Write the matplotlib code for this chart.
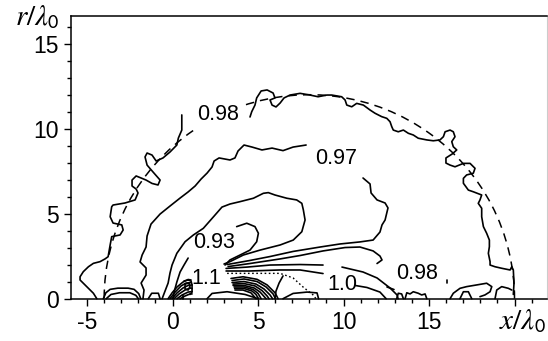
import matplotlib
matplotlib.use('Agg')
import matplotlib.pyplot as plt
from matplotlib.patches import Arc
from matplotlib.ticker import MultipleLocator

plt.rcParams['font.family'] = ['Liberation Sans', 'DejaVu Sans']
plt.rcParams['mathtext.fontset'] = 'stix'

# ---------------- data (units of lambda0) ----------------
# outer 0.98 contour, left of its label
c098a_x = [-4.43,-4.63,-5.02,-5.41,-5.41,-5.22,-4.92,-4.63,-4.24,-3.95,-3.77,-3.65,-3.56,-3.07,-2.89,-2.97,-3.48,-3.65,-3.56,-3.48,-2.78,-2.19,-2.02,-2.13,-2.37,-2.37,-2.13,-1.84,-1.55,-1.20,-0.85,-0.73,-1.14,-1.49,-1.61,-1.49,-1.20,-0.96,-0.56,-0.15,0.25,0.34,0.54,0.54]
c098a_y = [0,0.32,0.71,1.10,1.29,1.59,1.88,2.08,2.18,2.34,2.47,3.16,3.65,3.75,4.04,4.34,4.45,4.82,5.41,5.51,5.63,5.81,6.22,6.45,6.63,6.98,7.22,7.10,6.98,6.78,6.69,6.98,7.45,7.86,8.34,8.57,8.45,8.10,8.28,8.63,9.04,9.45,9.92,10.81]
# outer 0.98 contour, right of its label
c098b_x = [4.53,4.63,4.82,4.92,5.18,5.53,5.88,5.99,5.70,5.82,6.05,6.29,6.52,6.87,7.46,8.04,8.51,9.02,9.31,9.89,10.09,10.19,10.48,10.77,11.16,11.55,11.84,12.23,12.53,12.72,12.82,12.91,13.20,13.50,13.79,14.08,14.37,14.87,15.25,15.64,15.84,15.94,16.23,16.42,16.52,16.33,16.42,16.62,16.35,15.99,15.99,16.23,16.52,17.01,17.40,17.69,17.59,17.20,17.01,17.01,17.30,17.59,18.08,17.98,17.88,18.08,18.08,18.18,18.37,18.53,18.53,18.47,18.57,18.57,18.86,19.25,19.74,19.84,19.93,19.97,19.93]
c098b_y = [10.69,11.0,11.39,11.81,12.22,12.28,12.10,11.81,11.69,11.39,11.28,11.51,11.81,11.98,12.08,11.98,11.88,11.98,11.98,11.88,11.69,11.39,11.29,11.49,11.39,11.10,10.91,10.71,10.61,10.41,10.12,9.92,9.82,9.92,9.73,9.63,9.44,9.34,9.29,9.34,9.53,9.82,9.92,9.82,9.53,9.24,8.94,8.75,8.51,8.28,7.98,7.86,7.76,7.96,7.96,7.67,7.38,7.28,7.08,6.79,6.39,6.29,6.10,5.81,5.61,5.32,4.82,4.24,3.85,3.45,3.06,2.67,2.18,1.98,1.88,1.79,1.69,1.88,1.69,0.91,0.25]
# 0.97 contour
c097a_x = [-1.73,-1.67,-1.84,-1.55,-1.55,-1.90,-1.78,-1.55,-1.49,-1.26,-0.73,-0.15,0.44,0.91,1.32,1.67,2.02,2.31,2.43,2.72,3.36,3.65,3.83,4.18,4.65,5.23,5.82,6.46,7.05,7.81]
c097a_y = [0,0.51,0.92,1.39,1.81,2.16,2.57,3.04,3.69,4.39,4.98,5.45,5.92,6.28,6.63,7.04,7.39,7.75,8.10,8.28,8.16,8.28,8.69,9.04,8.92,8.75,8.86,8.71,8.92,9.04]
c097b_x = [11.14,11.55,11.61,11.96,12.43,12.60,12.43,12.25,12.13,11.73,10.96,9.80,8.63,7.05,5.70,4.53,3.19]
c097b_y = [7.10,6.75,6.22,5.81,5.63,5.34,4.63,4.34,3.92,3.45,3.34,3.22,3.04,2.78,2.48,2.25,2.01]
# unlabelled contour between 0.97 and 0.93
c095_x = [-0.61,-0.44,-0.26,-0.15,-0.03,0.25,0.73,1.22,1.80,2.43,2.89,3.36,3.95,4.73,5.31,5.60,5.99,6.68,7.26,7.56,7.65,7.75,7.56,7.06,6.29,5.12,4.14,3.36,3.01]
c095_y = [0,0.45,0.92,1.51,1.98,2.67,3.35,3.75,4.14,4.86,5.39,5.57,5.71,5.91,6.20,6.24,6.10,5.91,5.81,5.61,5.22,4.63,3.94,3.45,3.16,2.86,2.57,2.18,2.04]
# 0.93 contour
c093a_x = [0.03,0.09,0.25,0.44,0.67,0.91]
c093a_y = [0,0.39,0.98,1.57,1.98,2.39]
c093b_x = [3.75,4.34,4.82,5.02,4.92,4.53,3.95,3.36,3.07]
c093b_y = [4.24,4.44,4.24,3.85,3.35,2.86,2.57,2.28,1.98]
# fan of contours leaving x ~ 3
hook_x = [3.25,4.53,6.29,7.46,8.80,10.09,10.96,11.73,12.13,12.25,11.96]
hook_y = [1.89,2.07,2.34,2.54,2.81,3.01,3.04,2.81,2.51,2.28,2.07]
fan3_x = [3.13,4.36,5.70,7.46,8.80]
fan3_y = [1.78,1.86,1.98,2.01,1.98]
c100a_x = [3.13,4.53,6.29,7.46,8.80]
c100a_y = [1.63,1.63,1.69,1.69,1.48]
c100b_x = [9.91,11.14,11.96,12.72,13.13,13.19]
c100b_y = [1.86,1.57,1.22,0.63,0.22,0]
low1_x = [10.67,11.37,12.13,12.49]
low1_y = [0.78,0.66,0.39,0]
low2_x = [12.54,12.95]
low2_y = [0.69,0.54]
dot_x = [3.19,6.29,7.05,7.63,8.22,8.39]
dot_y = [1.49,1.49,1.22,0.69,0.22,0]
# nested arcs near x ~ 4-6
arcs_x = [[3.42,4.12,4.94,5.53,6.0,6.17],
          [3.48,4.18,4.94,5.47,5.88,6.02],
          [3.48,4.18,4.88,5.35,5.70,5.85],
          [3.54,4.18,4.82,5.23,5.53,5.64],
          [3.54,4.18,4.77,5.12,5.35,5.47],
          [3.60,4.18,4.71,5.0,5.18],
          [3.63,4.18,4.65,4.88,5.03],
          [3.65,4.12,4.59,4.88]]
arcs_y = [[1.19,1.29,1.14,0.81,0.34,0],
          [1.07,1.16,1.01,0.69,0.28,0],
          [0.95,1.01,0.86,0.57,0.22,0],
          [0.86,0.89,0.75,0.48,0.16,0],
          [0.78,0.78,0.63,0.39,0.13,0],
          [0.69,0.69,0.54,0.31,0],
          [0.60,0.60,0.45,0.25,0],
          [0.51,0.51,0.34,0]]
mirror_x = [6.46,6.23,6.05,5.99]
mirror_y = [1.34,0.92,0.45,0]
under_x = [2.02,2.31,3.19,4.24,5.0]
under_y = [0,0.31,0.41,0.25,0]
# dense cluster near x ~ 0-1
clus_x = [[-0.26,-0.03,0.26,0.61,0.91,1.08],
          [-0.15,0.15,0.50,0.79,1.08],
          [-0.03,0.26,0.61,0.91,1.14],
          [0.09,0.38,0.73,1.02,1.14],
          [0.26,0.56,0.91,1.14],
          [0.44,0.73,1.02,1.14],
          [0.67,0.91,1.08,1.14,1.14,1.02],
          [0.73,0.96,1.02,0.91,0.73,0.73],
          [0.60,0.60]]
clus_y = [[0,0.34,0.69,0.98,1.13,1.10],
          [0,0.39,0.75,0.92,0.95],
          [0,0.34,0.63,0.78,0.81],
          [0,0.28,0.51,0.63,0.60],
          [0,0.22,0.39,0.42],
          [0,0.16,0.28,0.28],
          [1.04,1.10,1.04,0.81,0.39,0.25],
          [0.86,0.92,0.69,0.51,0.57,0.86],
          [0,0.22]]
# small contours along the axis
small_x = [[-4.05,-3.9,-3.65,-3.2,-2.6,-2.25,-1.98,-1.86],
           [-3.88,-3.6,-3.1,-2.5,-2.15,-2.0],
           [-1.42,-1.22,-0.83,-0.73],
           [6.46,7.05,7.87,8.45,8.54],
           [13.11,13.20,13.40,13.50],
           [13.60,13.70,13.89,14.08,14.37,14.57,14.77,14.87],
           [16.03,16.03],
           [16.23,16.42,16.81,17.20,17.79,18.37,18.67,18.57,18.27,17.98],
           [16.81,17.01,17.30,17.50],
           [18.86,18.96,19.25,19.64,19.84]]
small_y = [[0,0.35,0.55,0.62,0.62,0.55,0.3,0],
           [0,0.25,0.35,0.35,0.2,0],
           [0,0.32,0.32,0],
           [0,0.31,0.39,0.34,0],
           [0,0.32,0.28,0],
           [0,0.35,0.28,0.41,0.32,0.22,0.28,0],
           [1.10,0.92],
           [0,0.32,0.61,0.71,0.81,0.91,0.71,0.41,0.22,0.12],
           [0,0.41,0.41,0],
           [0,0.51,0.71,0.61,0.51]]
# dashed reference semicircle: centre, radius, label gap (degrees)
circ_center = (8.0, 0.0)
circ_radius = 12.0
circ_gap = (109.0, 124.5)
# contour labels
lab_text = ['0.98', '0.97', '0.93', '1.1', '1.0', '0.98']
lab_x = [2.68, 9.56, 2.44, 1.95, 9.94, 14.28]
lab_y = [10.85, 8.25, 3.31, 1.20, 0.85, 1.49]
xticks = [-5, 0, 5, 10, 15, 20]
xtick_labels = ['-5', '0', '5', '10', '15', '']
yticks = [0, 5, 10, 15]
ytick_labels = ['0', '5', '10', '15']

# ---------------- figure ----------------
W, H = 548, 341
fig = plt.figure(figsize=(W / 100, H / 100), dpi=100)
ax = fig.add_axes([71 / W, (H - 298.7) / H, (547 - 71) / W, (298.7 - 16) / H])
ax.set_xlim(-5.94, 21.9)
ax.set_ylim(0, 16.63)

kw = dict(color='black', lw=1.2, solid_joinstyle='round', solid_capstyle='round', clip_on=False)
for xs, ys in [(c098a_x, c098a_y), (c098b_x, c098b_y), (c097a_x, c097a_y), (c097b_x, c097b_y),
               (c095_x, c095_y), (c093a_x, c093a_y), (c093b_x, c093b_y), (hook_x, hook_y),
               (fan3_x, fan3_y), (c100a_x, c100a_y), (c100b_x, c100b_y), (low1_x, low1_y),
               (low2_x, low2_y), (mirror_x, mirror_y), (under_x, under_y)]:
    ax.plot(xs, ys, **kw)
for xs, ys in zip(arcs_x, arcs_y):
    ax.plot(xs, ys, **kw)
for xs, ys in zip(clus_x, clus_y):
    ax.plot(xs, ys, **kw)
for xs, ys in zip(small_x, small_y):
    ax.plot(xs, ys, **kw)
ax.plot(dot_x, dot_y, color='black', lw=1.0, linestyle=(0, (1.2, 1.8)))

for t1, t2 in [(0.0, circ_gap[0]), (circ_gap[1], 180.0)]:
    ax.add_patch(Arc(circ_center, 2 * circ_radius, 2 * circ_radius, theta1=t1, theta2=t2,
                     color='black', lw=1.1, linestyle=(0, (5.5, 4))))

for t, x, y in zip(lab_text, lab_x, lab_y):
    ax.text(x, y, t, fontsize=15.5, ha='center', va='center', color='black')

ax.set_xticks(xticks)
ax.set_xticklabels(xtick_labels)
ax.set_yticks(yticks)
ax.set_yticklabels(ytick_labels)
ax.xaxis.set_minor_locator(MultipleLocator(1))
ax.yaxis.set_minor_locator(MultipleLocator(1))
ax.tick_params(which='major', direction='out', length=5, width=1, labelsize=16.5, pad=4,
               top=False, right=False)
ax.tick_params(which='minor', direction='out', length=3, width=1, top=False, right=False)
for s in ['left', 'bottom', 'top']:
    ax.spines[s].set_linewidth(1.1)
ax.spines['right'].set_color('#cccccc')
ax.spines['right'].set_linewidth(0.8)

fig.text(37 / W, 1 - 17 / H, r'$r/\lambda_{\mathsf{0}}$', fontsize=21, ha='center', va='center')
fig.text(522 / W, 1 - 321 / H, r'$x/\lambda_{\mathsf{0}}$', fontsize=21, ha='center', va='center')

fig.savefig('out.png', dpi=100)
